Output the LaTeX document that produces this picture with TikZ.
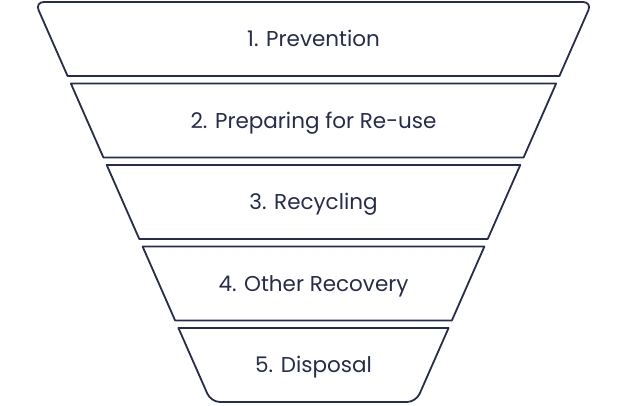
\documentclass[tikz,border=0pt]{standalone}
\usepackage{fontspec}
\setmainfont{Poppins}
\usepackage{xcolor}
\usepackage{tikz}
\usetikzlibrary{positioning}
\definecolor{navy}{HTML}{272C4C}

\begin{document}
\begin{tikzpicture}[x=1pt, y=-1pt,
    band/.style={draw=navy, line width=1.8pt, line join=round},
    bandtext/.style={font=\fontsize{21.5}{26}\selectfont, text=navy, anchor=base},
]
\useasboundingbox (0,0) rectangle (630,405);

% Bands of the funnel
\foreach \i/\txt in {1/{1. Prevention}, 2/{2. Preparing for Re-use}, 3/{3. Recycling}, 4/{4. Other Recovery}, 5/{5. Disposal}} {
    \pgfmathsetmacro{\yt}{2+81.5*(\i-1)}
    \pgfmathsetmacro{\yb}{\yt+74}
    \pgfmathsetmacro{\xlt}{35+0.44*(\yt-2)}
    \pgfmathsetmacro{\xlb}{35+0.44*(\yb-2)}
    \pgfmathsetmacro{\xrt}{627-\xlt}
    \pgfmathsetmacro{\xrb}{627-\xlb}
    \ifnum\i=1
        \draw[band] (\xlb,\yb) [rounded corners=9pt] -- (\xlt,\yt) -- (\xrt,\yt) [sharp corners] -- (\xrb,\yb) -- cycle;
    \else\ifnum\i=5
        \draw[band] (\xrt,\yt) -- (\xlt,\yt) [rounded corners=9pt] -- (\xlb,\yb) -- (\xrb,\yb) [sharp corners] -- cycle;
    \else
        \draw[band] (\xlt,\yt) -- (\xrt,\yt) -- (\xrb,\yb) -- (\xlb,\yb) -- cycle;
    \fi\fi
    \node[bandtext] (T\i) at (313.5, {(\yt+\yb)/2+7.7}) {\txt};
}

\end{tikzpicture}
\end{document}
